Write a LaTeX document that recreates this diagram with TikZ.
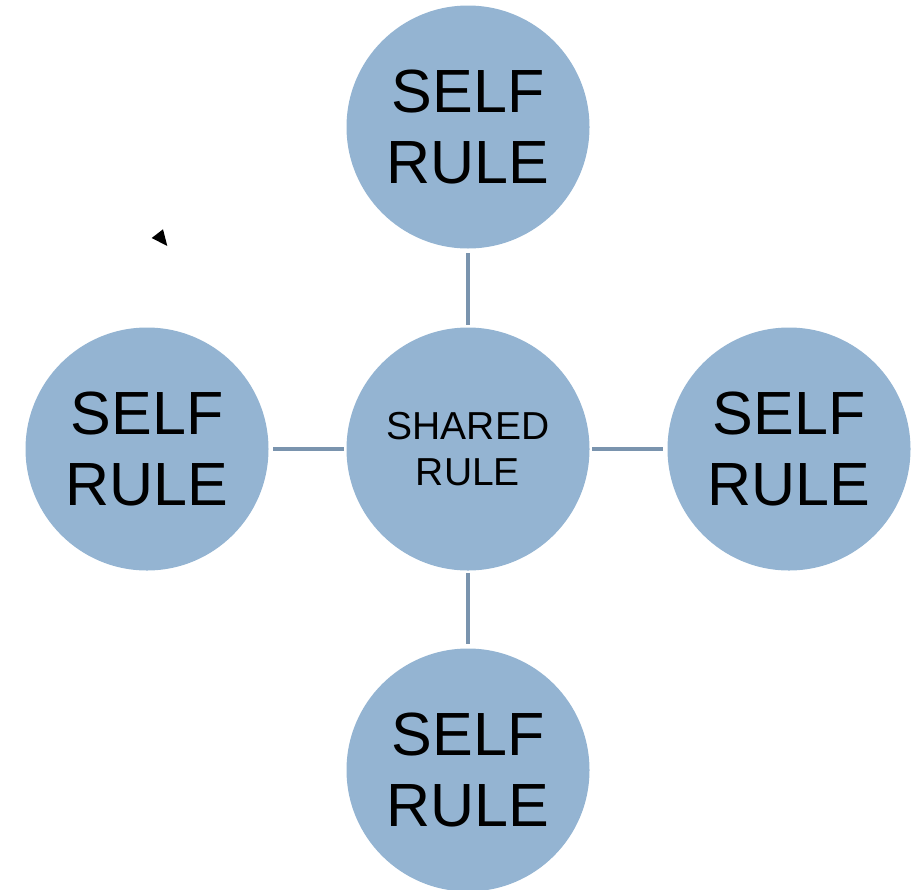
\documentclass[tikz,border=0pt]{standalone}
\usepackage{fontspec}
\setmainfont{Liberation Sans}
\definecolor{ballblue}{RGB}{148,180,210}
\definecolor{linkblue}{RGB}{122,148,174}
\tikzset{
	rule/.style={circle,fill=ballblue,minimum size=243pt,inner sep=0pt,align=center,text=black},
	self/.style={rule,font=\fontsize{61}{71}\selectfont},
	shared/.style={rule,font=\fontsize{39}{46}\selectfont},
	link/.style={draw=linkblue,line width=4pt,shorten <=2.5pt,shorten >=4pt}
}
\begin{document}
		\begin{tikzpicture}
			\useasboundingbox (0,0) rectangle (920pt,-889pt);
			\node[shared] (hub) at (468pt,-449pt) {SHARED\\RULE};
			\node[self] (top) at (468pt,-127pt) {SELF\\RULE};
			\node[self] (left) at (147pt,-449pt) {SELF\\RULE};
			\node[self] (right) at (789pt,-449pt) {SELF\\RULE};
			\node[self] (bottom) at (468pt,-770pt) {SELF\\RULE};
			\draw[link] (hub) -- (top);
			\draw[link] (hub) -- (left);
			\draw[link] (hub) -- (right);
			\draw[link] (hub) -- (bottom);
%			stray tip
			\fill (151.7pt,-238pt) -- (163pt,-229.3pt) -- (167.3pt,-246pt) -- cycle;
		\end{tikzpicture}
\end{document}
